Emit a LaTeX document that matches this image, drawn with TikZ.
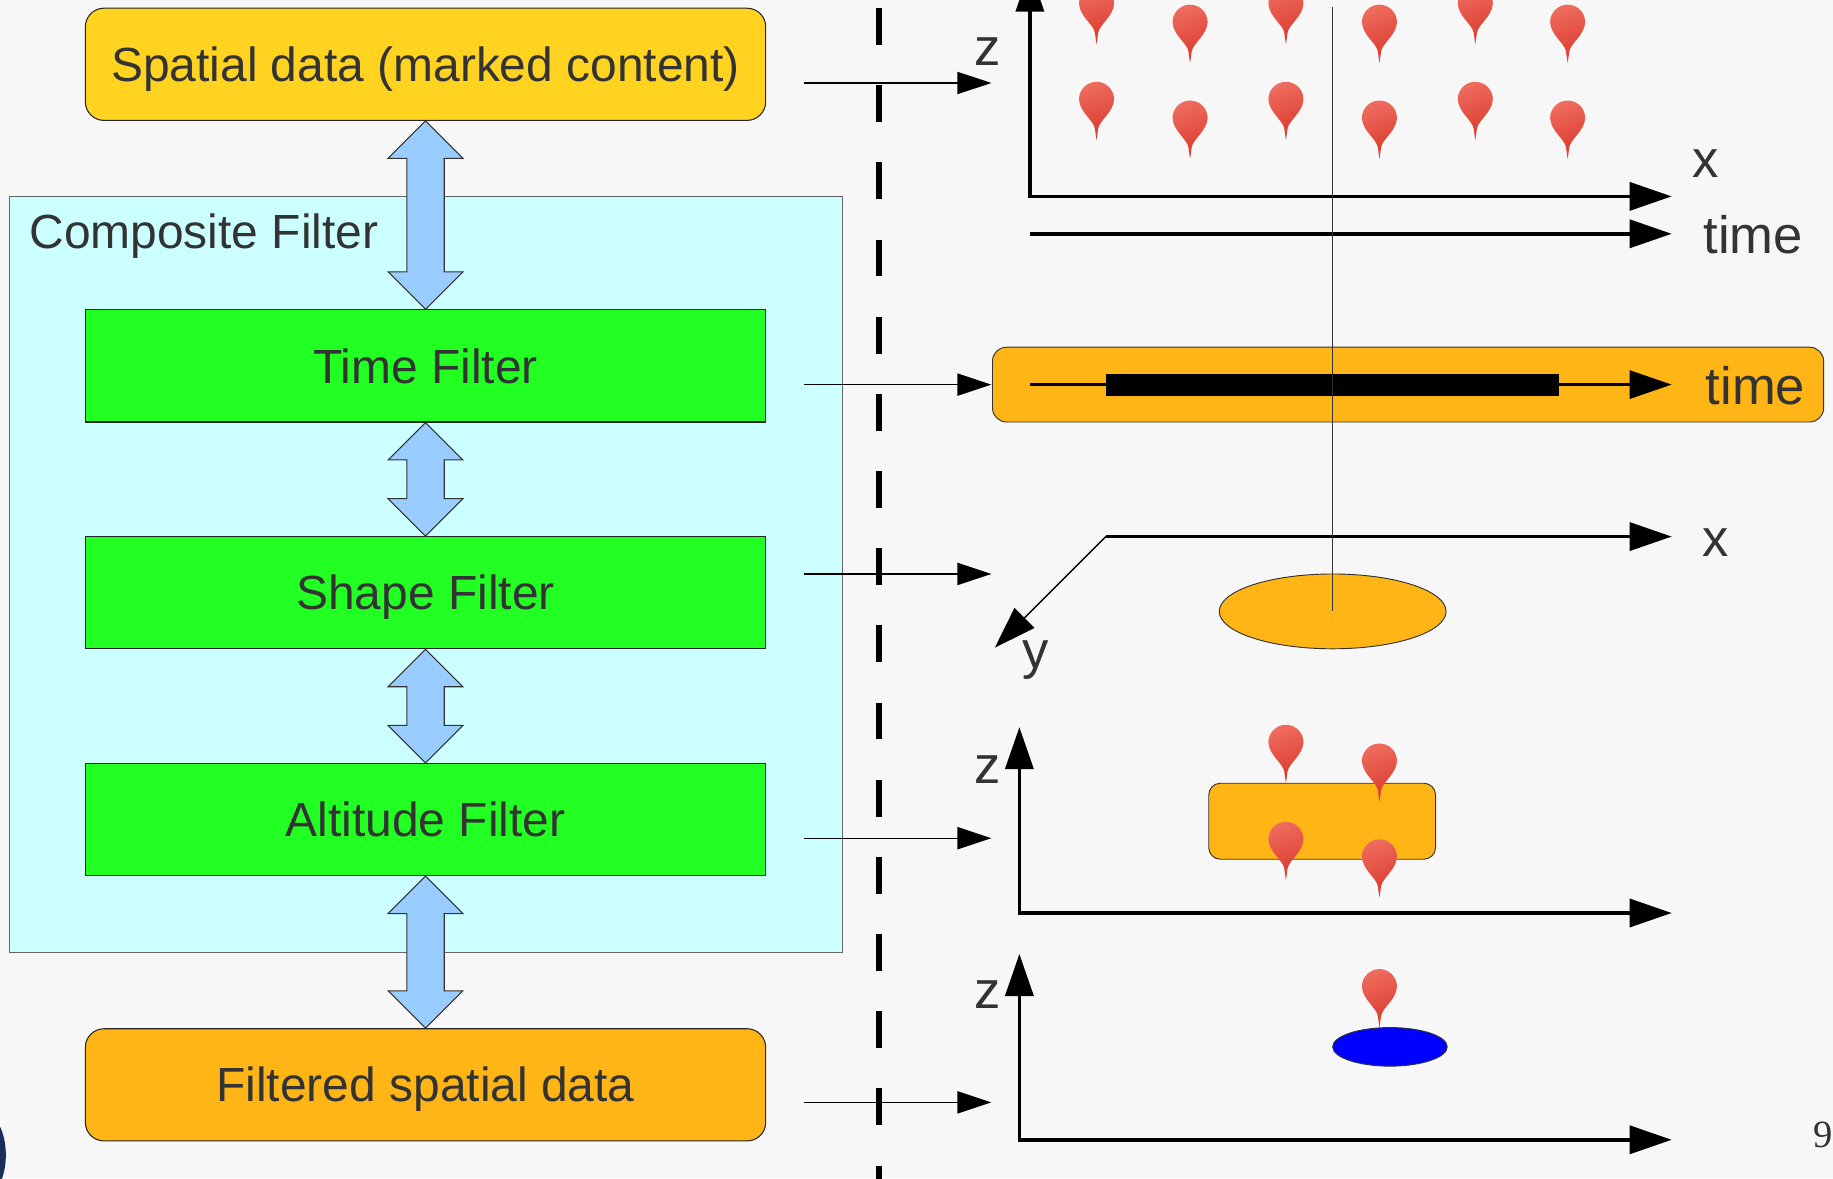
\documentclass[tikz,border=0pt]{standalone}
\usepackage{fontspec}
\setmainfont{Liberation Sans}
\newfontfamily\pagefont{Liberation Serif}
\usetikzlibrary{arrows.meta,calc,shapes.geometric}
\definecolor{bg}{HTML}{F7F7F7}
\definecolor{yel}{HTML}{FFD320}
\definecolor{org}{HTML}{FFB515}
\definecolor{grn}{HTML}{22FF22}
\definecolor{cyanbg}{HTML}{CCFFFF}
\definecolor{lblue}{HTML}{99CCFF}
\definecolor{txt}{HTML}{333333}
\definecolor{pinred}{HTML}{D9392C}
\definecolor{pinlight}{HTML}{EE6B5D}
\definecolor{navy}{HTML}{1B2D5C}
\tikzset{
  bigtip/.tip={Triangle[length=36pt,width=24pt]},
  smalltip/.tip={Triangle[length=29pt,width=19pt]},
  mappin/.pic={
    \shade[top color=pinlight, bottom color=pinred, shading angle=20]
      (0,0) -- (-1.4,-10) .. controls (-2.5,-17) and (-14.5,-24) .. (-15,-35)
      arc[start angle=180,end angle=0,radius=15pt]
      .. controls (14.5,-24) and (2.5,-17) .. (1.4,-10) -- cycle;
  }
}
\newcommand\dblarr[2]{%
  \path[dblarrow] let \p1=(#1.south), \p2=(#2.north) in
    (\x1,\y1) -- (\x1+32pt,\y1-32pt) -- (\x1+16pt,\y1-32pt) -- (\x1+16pt,\y2+32pt)
    -- (\x1+32pt,\y2+32pt) -- (\x1,\y2) -- (\x1-32pt,\y2+32pt) -- (\x1-16pt,\y2+32pt)
    -- (\x1-16pt,\y1-32pt) -- (\x1-32pt,\y1-32pt) -- cycle;}
\begin{document}
\begin{tikzpicture}[x=1pt,y=-1pt,
  filterbox/.style={draw=black!85, line width=0.9pt, fill=grn, minimum width=582pt,
    minimum height=96pt, inner sep=0pt, text height=29.3pt, text depth=0pt,
    text=txt, font=\fontsize{41}{49}\selectfont},
  databox/.style={filterbox, rounded corners=16pt},
  dblarrow/.style={fill=lblue, draw=black!80, line width=0.9pt},
  thinarrow/.style={line width=1pt, -smalltip},
  axisline/.style={line width=3pt},
  axislabel/.style={text=txt, font=\fontsize{45}{53}\selectfont, inner sep=0pt, anchor=base},
  thinline/.style={line width=1pt, draw=black!80}]
\useasboundingbox (0,0) rectangle (1568,1008);
\clip (0,0) rectangle (1568,1008);
\fill[bg] (0,0) rectangle (1568,1008);
\fill[navy] (-14,988) ellipse [x radius=19pt, y radius=36pt];

% ---------- left side ----------
\node[draw=black!60, line width=0.9pt, fill=cyanbg, minimum width=712pt, minimum height=646pt,
  anchor=north west, inner sep=0pt] (cf) at (8,168) {};
\node[anchor=base west, text=txt, font=\fontsize{41}{49}\selectfont, inner sep=0pt] (cft) at (25,213) {Composite Filter};

\node[databox, fill=yel] (sd) at (364,55) {Spatial data (marked content)};
\node[filterbox] (tf) at (364,313) {Time Filter};
\node[filterbox] (shf) at (364,507) {Shape Filter};
\node[filterbox] (af) at (364,701) {Altitude Filter};
\node[databox, fill=org] (fsd) at (364,928) {Filtered spatial data};

\dblarr{sd}{tf}
\dblarr{tf}{shf}
\dblarr{shf}{af}
\dblarr{af}{fsd}

% thin arrows
\foreach \n/\yy in {1/71, 2/329, 3/491, 4/717, 5/943}{
  \coordinate (s\n) at (688,\yy);
  \coordinate (e\n) at (848,\yy);
  \draw[thinarrow] (s\n) -- (e\n);
}

% dashed separator
\coordinate (dtop) at (752,7);
\coordinate (dbot) at (752,1012);
\draw[line width=5pt, dash pattern=on 31.5pt off 34.5pt] (dtop) -- (dbot);

% ---------- panel 1: points in space and time ----------
\coordinate (o1) at (881,168);
\coordinate (z1) at (881,-26);
\coordinate (x1) at (1430,168);
\draw[axisline, bigtip-bigtip] (z1) -- (o1) -- (x1);
\coordinate (t1s) at (881,200);
\coordinate (t1e) at (1430,200);
\draw[axisline, -bigtip] (t1s) -- (t1e);
\node[axislabel] (lz1) at (845,56) {z};
\node[axislabel] (lx1) at (1459,152) {x};
\node[axislabel, anchor=base west] (lt1) at (1457,217) {time};
\foreach \xx in {938,1100,1262}{
  \pic at (\xx,38) {mappin};
  \pic at (\xx,120) {mappin};
}
\foreach \xx in {1018,1180,1341}{
  \pic at (\xx,54) {mappin};
  \pic at (\xx,136) {mappin};
}

% ---------- panel 2: time interval ----------
\node[draw=black!80, line width=0.8pt, fill=org, rounded corners=12pt, minimum width=711pt,
  minimum height=64pt, inner sep=0pt] (tb) at (1204.5,329) {};
\coordinate (t2s) at (881,329);
\coordinate (t2e) at (1430,329);
\draw[line width=2.5pt, -bigtip] (t2s) -- (t2e);
\fill[black] (946,320) rectangle (1334,339);
\node[axislabel, anchor=base west] (lt2) at (1459,346) {time};

% ---------- panel 3: shape ----------
\coordinate (o3) at (946,459);
\coordinate (x3) at (1430,459);
\coordinate (y3) at (851,554);
\draw[axisline, -bigtip] (o3) -- (x3);
\draw[line width=1.2pt, -bigtip] (o3) -- (y3);
\node[axislabel] (lx3) at (1468,476) {x};
\node[axislabel] (ly3) at (886,572) {y};
\node[ellipse, draw=black!80, line width=0.8pt, fill=org, minimum width=194pt, minimum height=64pt,
  inner sep=0pt] (el) at (1140,523) {};
\coordinate (vtop) at (1140,6);
\draw[thinline] (vtop) -- (el.center);

% ---------- panel 4: altitude ----------
\coordinate (o4) at (872,781);
\coordinate (z4) at (872,622);
\coordinate (x4) at (1430,781);
\draw[axisline, bigtip-bigtip] (z4) -- (o4) -- (x4);
\node[axislabel] (lz4) at (845,670) {z};
\node[draw=black!80, line width=0.8pt, fill=org, rounded corners=10pt, minimum width=194pt,
  minimum height=65pt, inner sep=0pt] (ar) at (1131,702.5) {};
\pic at (1100,670) {mappin};
\pic at (1180,686) {mappin};
\pic at (1100,753) {mappin};
\pic at (1180,768) {mappin};

% ---------- panel 5: result ----------
\coordinate (o5) at (872,975);
\coordinate (z5) at (872,816);
\coordinate (x5) at (1430,975);
\draw[axisline, bigtip-bigtip] (z5) -- (o5) -- (x5);
\node[axislabel] (lz5) at (845,863) {z};
\node[ellipse, draw=black!80, line width=0.8pt, fill=blue, minimum width=98pt, minimum height=33pt,
  inner sep=0pt] (be) at (1189,895.5) {};
\pic at (1180,879) {mappin};

% page number
\node[anchor=base west, inner sep=0pt, text=txt, font=\pagefont\fontsize{33}{40}\selectfont] (pg) at (1551,982) {9};
\end{tikzpicture}
\end{document}
